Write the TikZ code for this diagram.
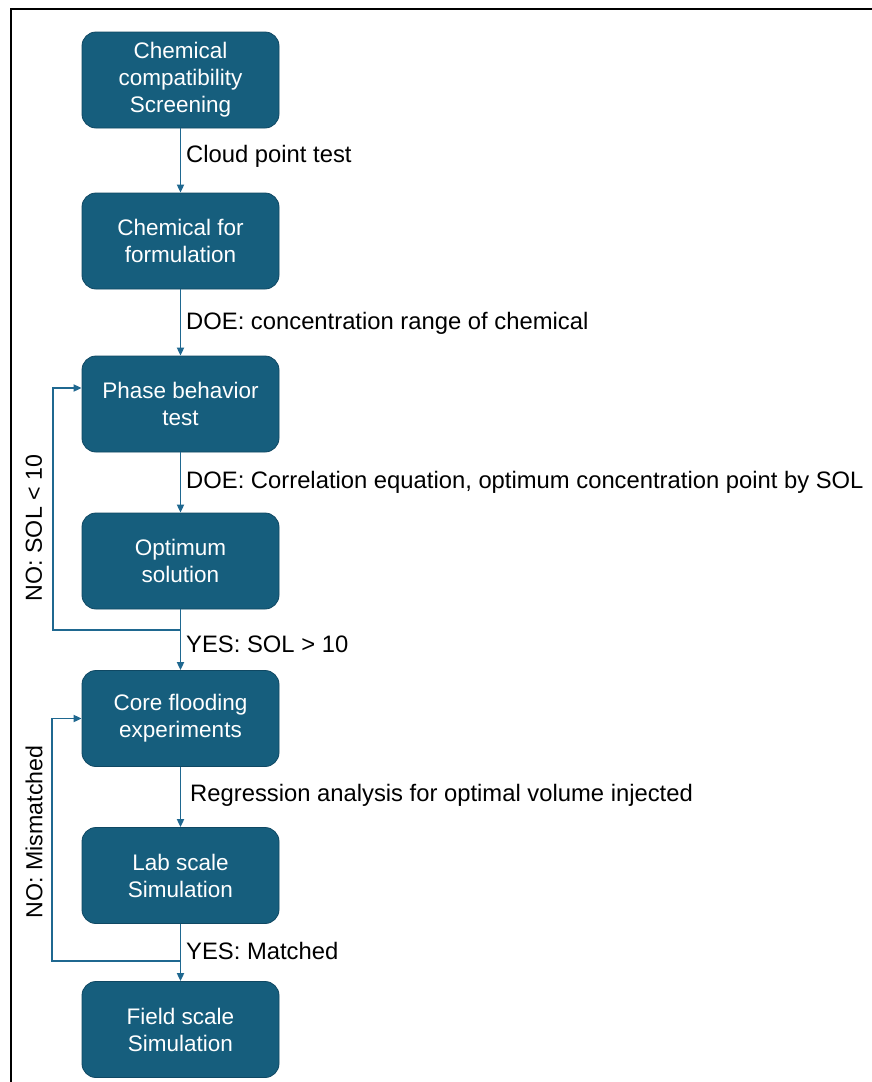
\documentclass[tikz,border=0pt]{standalone}
\usepackage{fontspec}
\setmainfont{Liberation Sans}
\usetikzlibrary{arrows.meta}
\definecolor{boxfill}{HTML}{165E7D}
\definecolor{boxline}{HTML}{0F4863}
\definecolor{conn}{HTML}{1F6890}
\tikzset{
  stepbox/.style={draw=boxline, line width=0.8pt, fill=boxfill, rounded corners=14pt,
    minimum width=197pt, minimum height=96pt, inner sep=2pt, align=center,
    text=white, font=\fontsize{22.5}{27}\selectfont},
  conn/.style={draw=conn, line width=1.8pt, -{Triangle[length=8pt,width=7pt]}},
  lbl/.style={anchor=west, inner sep=0pt, font=\fontsize{23.8}{27}\selectfont, text=black},
  vlbl/.style={rotate=90, inner sep=0pt, font=\fontsize{23.2}{27}\selectfont, text=black},
}
\begin{document}
\begin{tikzpicture}[x=1pt,y=-1pt]
\useasboundingbox (0,0) rectangle (872,1082);
\fill[white] (0,0) rectangle (872,1082);
% frame (top and left edges visible)
\draw[line width=2.8pt, black] (11,1082) -- (11,9) -- (872,9);

\node[stepbox] (b1) at (180.5,80) {Chemical\\compatibility\\Screening};
\node[stepbox] (b2) at (180.5,241) {Chemical for\\formulation};
\node[stepbox] (b3) at (180.5,404) {Phase behavior\\test};
\node[stepbox] (b4) at (180.5,561) {Optimum\\solution};
\node[stepbox] (b5) at (180.5,718.5) {Core flooding\\experiments};
\node[stepbox] (b6) at (180.5,875.5) {Lab scale\\Simulation};
\node[stepbox] (b7) at (180.5,1029.5) {Field scale\\Simulation};

\draw[conn] (b1) -- (b2);
\draw[conn] (b2) -- (b3);
\draw[conn] (b3) -- (b4);
\draw[conn] (b4) -- (b5);
\draw[conn] (b5) -- (b6);
\draw[conn] (b6) -- (b7);

\coordinate (j1) at (180.5,630);
\coordinate (c1) at (53,630);
\coordinate (e1) at ([yshift=16pt]b3.west);
\draw[conn] (j1) -- (c1) |- (e1);

\coordinate (j2) at (180.5,961);
\coordinate (c2) at (52,961);
\draw[conn] (j2) -- (c2) |- (b5.west);

\node[lbl] (l1) at (186,156) {Cloud point test};
\node[lbl] (l2) at (186,323) {DOE: concentration range of chemical};
\node[lbl] (l3) at (186,482) {DOE: Correlation equation, optimum concentration point by SOL};
\node[lbl] (l4) at (186,644) {YES: SOL > 10};
\node[lbl] (l5) at (190,795) {Regression analysis for optimal volume injected};
\node[lbl] (l6) at (186,951) {YES: Matched};
\node[vlbl] (l7) at (34,528) {NO: SOL < 10};
\node[vlbl] (l8) at (34,832) {NO: Mismatched};
\end{tikzpicture}
\end{document}
